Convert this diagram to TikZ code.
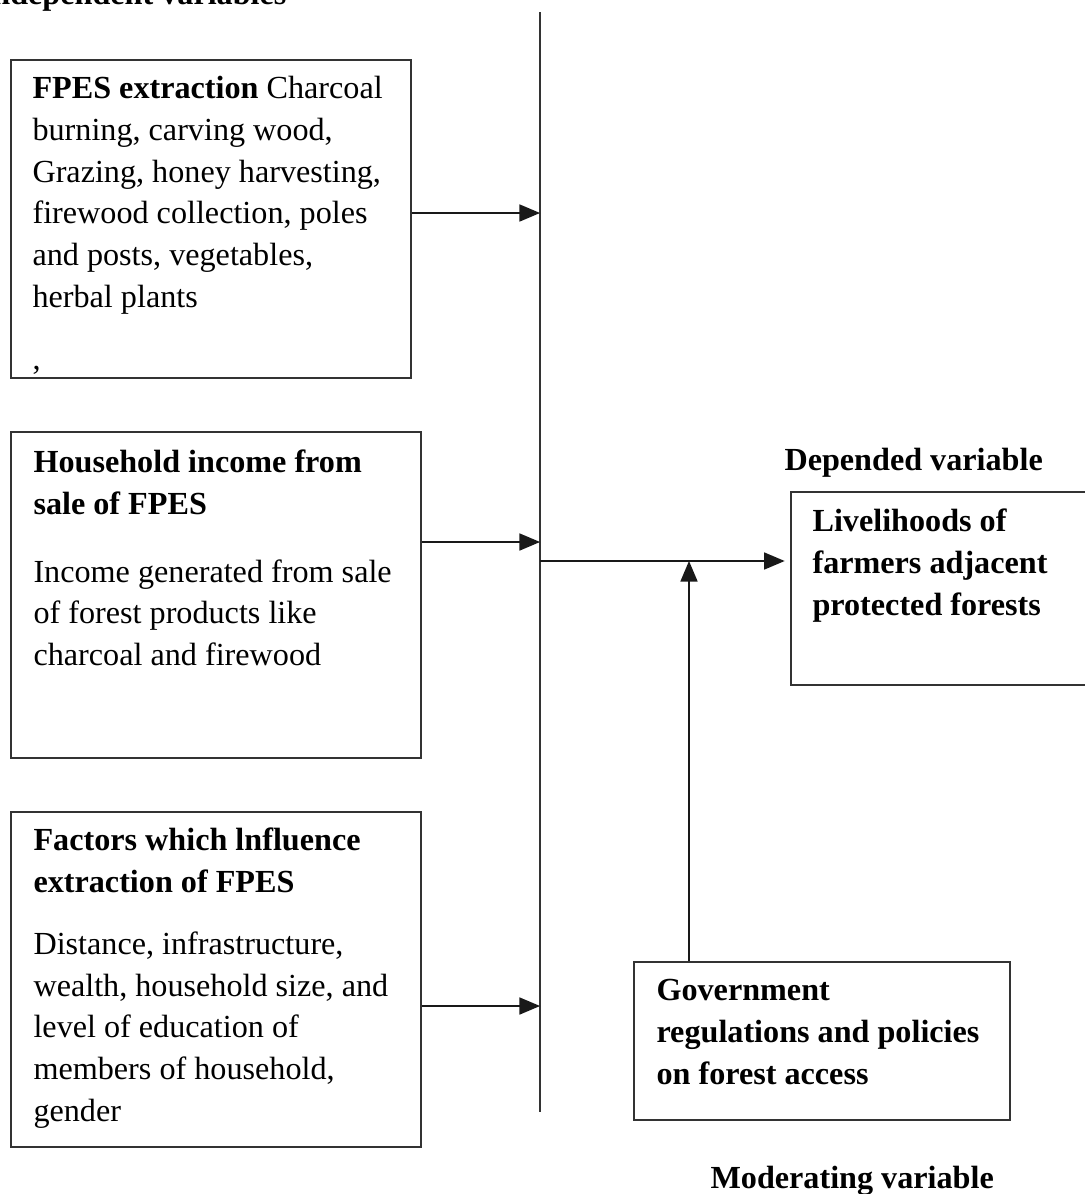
\documentclass[tikz,border=0pt]{standalone}
\usepackage{fontspec}
\setmainfont{Liberation Serif}
\usetikzlibrary{arrows}
\usetikzlibrary{fit}
\usetikzlibrary{positioning}
\tikzset{varbox/.style={rectangle, draw=black!80, line width=0.75pt, inner sep=0pt},
vartext/.style={rectangle, inner sep=0pt, anchor=north west, align=left,
font=\fontsize{12}{15.6}\selectfont},
varhead/.style={vartext, font=\fontsize{12}{15.6}\selectfont\bfseries},
varlabel/.style={inner sep=0pt, anchor=base west, font=\fontsize{12}{15.6}\selectfont\bfseries},
bus/.style={draw=black!80, line width=0.75pt},
link/.style={->, draw=black!90, line width=0.75pt},
>={triangle 45}}
\newcommand{\varframe}[3]{
\node (#1) [varbox, fit={#2 #3}] {};
}

\begin{document}
\begin{tikzpicture}[x=0.373pt, y=-0.373pt]
  \useasboundingbox (0,0) rectangle (1085,1194);

  % independent variables
  \varframe{extrbox}{(11,60)}{(411,378)}
  \varframe{incbox}{(11,432)}{(421,758)}
  \varframe{facbox}{(11,812)}{(421,1147)}
  \node (extrtext) [vartext] at (32,68.7) {\strut\textbf{FPES extraction} Charcoal\\
    burning, carving wood,\\
    Grazing, honey harvesting,\\
    firewood collection, poles\\
    and posts, vegetables,\\
    herbal plants\\[7.5pt]
    ,};
  \node (inctext) [vartext] at (33,442.7) {\strut\textbf{Household income from}\\
    \textbf{sale of FPES}\\[9.7pt]
    Income generated from sale\\
    of forest products like\\
    charcoal and firewood};
  \node (factext) [vartext] at (33,820.7) {\strut\textbf{Factors which lnfluence}\\
    \textbf{extraction of FPES}\\[7.5pt]
    Distance, infrastructure,\\
    wealth, household size, and\\
    level of education of\\
    members of household,\\
    gender};

  % dependent and moderating variables
  \varframe{livebox}{(791,492)}{(1092,685)}
  \varframe{govbox}{(634,962)}{(1010,1120)}
  \node (livetext) [varhead] at (812,501.7) {\strut Livelihoods of\\
    farmers adjacent\\
    protected forests};
  \node (govtext) [varhead] at (656,970.7) {\strut Government\\
    regulations and policies\\
    on forest access};

  \node (indlabel) [varlabel, anchor=base east] at (287,4) {Independent variables};
  \node (deplabel) [varlabel] at (784,470) {Depended variable};
  \node (modlabel) [varlabel] at (710,1188) {Moderating variable};

  % connectors
  \coordinate (bustop) at (540,12);
  \coordinate (busbot) at (540,1112);
  \coordinate (tap1) at (540,213);
  \coordinate (tap2) at (540,542);
  \coordinate (tap3) at (540,1006);
  \coordinate (join) at (540,561);
  \coordinate (modjoin) at (689,561);
  \draw [bus] (bustop) -- (busbot);
  \draw [link] (extrbox.east |- tap1) -- (tap1);
  \draw [link] (incbox.east |- tap2) -- (tap2);
  \draw [link] (facbox.east |- tap3) -- (tap3);
  \draw [link, shorten >=2pt] (join) -- (livebox.west |- join);
  \draw [link] (govbox.north -| modjoin) -- (modjoin);
\end{tikzpicture}
\end{document}
